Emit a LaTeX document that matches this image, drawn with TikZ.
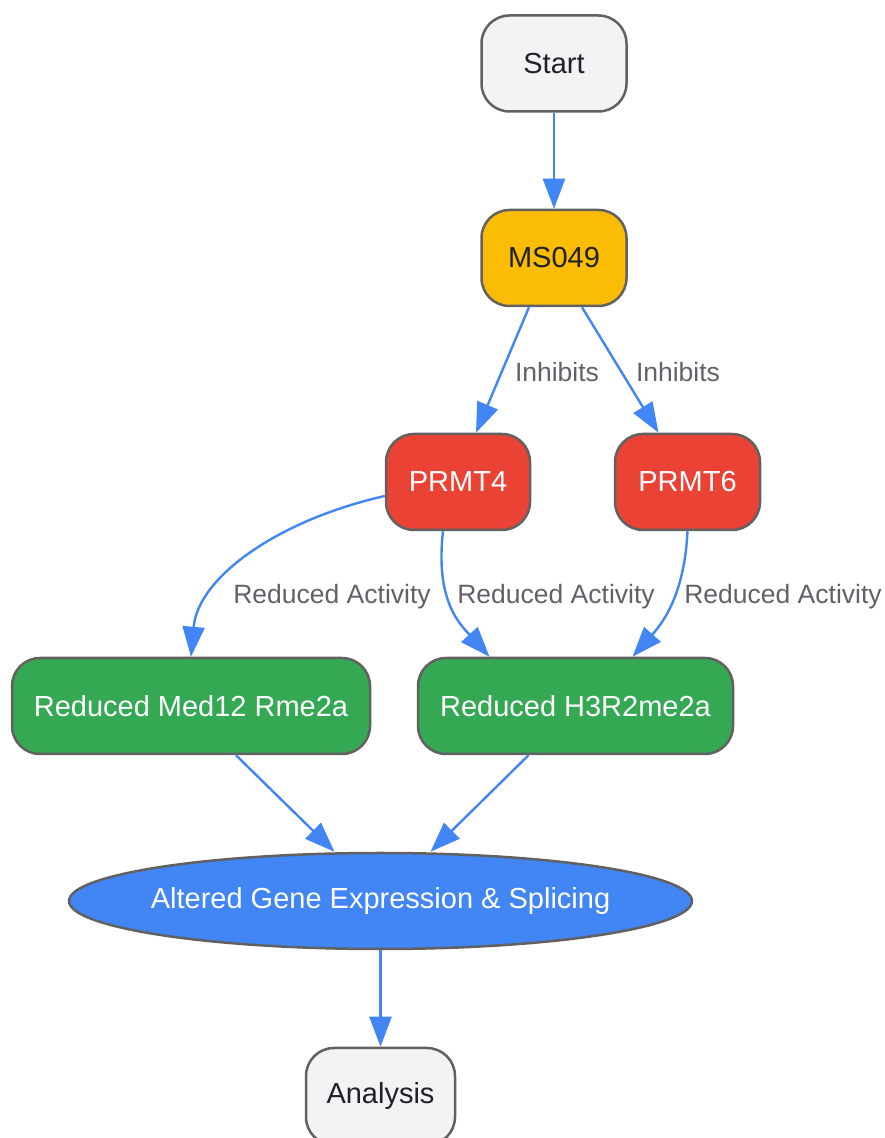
\documentclass[tikz,border=0pt]{standalone}
\usepackage{fontspec}
\setmainfont{Liberation Sans}
\usepackage{xcolor}
\usetikzlibrary{shapes.geometric}
\usetikzlibrary{arrows.meta}
\usetikzlibrary{positioning}

\definecolor{startgray}{HTML}{F1F3F4}
\definecolor{bordergray}{HTML}{616161}
\definecolor{drugyellow}{HTML}{FBBC04}
\definecolor{enzred}{HTML}{EA4335}
\definecolor{effgreen}{HTML}{34A853}
\definecolor{flowblue}{HTML}{4285F4}
\definecolor{textdark}{HTML}{202124}
\definecolor{lblgray}{HTML}{5F6368}

\tikzset{
  box/.style={draw=bordergray, line width=2.5pt, shape=rectangle, rounded corners=28pt,
    minimum height=96pt, inner sep=0pt, font=\fontsize{29}{35}\selectfont},
  greybox/.style={box, fill=startgray, text=textdark},
  drugbox/.style={box, fill=drugyellow, text=textdark},
  enzbox/.style={box, fill=enzred, text=white},
  effbox/.style={box, fill=effgreen, text=white},
  outcome/.style={draw=bordergray, line width=2.5pt, shape=ellipse, fill=flowblue, text=white,
    minimum width=623pt, minimum height=96pt, inner xsep=-12pt, inner ysep=0pt, font=\fontsize{29}{35}\selectfont},
  flow/.style={-{Triangle[length=30pt,width=22pt]}, draw=flowblue, line width=2.4pt},
  lbl/.style={text=lblgray, inner sep=0pt, font=\fontsize{26.5}{32}\selectfont},
}

\begin{document}
\begin{tikzpicture}[x=1pt, y=1pt]
\useasboundingbox (0,0) rectangle (884,1138);
\node[greybox, minimum width=145pt] (start) at (554,1074.5) {Start};
\node[drugbox, minimum width=145pt, below of=start, node distance=194.5pt] (ms) {MS049};
\node[enzbox, minimum width=144pt, below of=ms, node distance=224pt, xshift=-96pt] (p4) {PRMT4};
\node[enzbox, minimum width=145pt, below of=ms, node distance=224pt, xshift=133.5pt] (p6) {PRMT6};
\node[effbox, minimum width=358pt, below of=p4, node distance=224pt, xshift=-267pt] (med) {Reduced Med12 Rme2a};
\node[effbox, minimum width=315pt, below of=p4, node distance=224pt, xshift=117.5pt] (h3) {Reduced H3R2me2a};
\node[outcome, below of=med, node distance=195pt, xshift=189.5pt] (alt) {Altered Gene Expression \& Splicing};
\node[greybox, minimum width=149pt, minimum height=97pt, below of=alt, node distance=195.5pt] (ana) {Analysis};
% edge labels
\node[lbl] (inh4) at ([xshift=3pt, yshift=-65pt] ms.south) {Inhibits};
\node[lbl] (inh6) at ([xshift=124pt, yshift=-65pt] ms.south) {Inhibits};
\node[lbl] (ra1) at ([xshift=-126pt, yshift=-65pt] p4.south) {Reduced Activity};
\node[lbl] (ra2) at ([xshift=98pt, yshift=-65pt] p4.south) {Reduced Activity};
\node[lbl] (ra3) at ([xshift=95.5pt, yshift=-65pt] p6.south) {Reduced Activity};
% connectors
\draw[flow] (start.south) -- (ms.north);
\draw[flow] ([xshift=-25pt] ms.south) -- ([xshift=18pt] p4.north);
\draw[flow] ([xshift=28pt] ms.south) -- ([xshift=-29pt] p6.north);
\draw[flow] ([yshift=-14pt] p4.west) .. controls +(-106,-24) and +(7,80) .. (med.north);
\draw[flow] ([xshift=-15pt] p4.south) .. controls +(-8,-70) and +(-29,32) .. ([xshift=-86pt] h3.north);
\draw[flow] (p6.south) .. controls +(-3,-60) and +(33,37) .. ([xshift=57pt] h3.north);
\draw[flow] ([xshift=45pt] med.south) -- ([xshift=-46pt] alt.north);
\draw[flow] ([xshift=-47pt] h3.south) -- ([xshift=50pt] alt.north);
\draw[flow] (alt.south) -- (ana.north);
\end{tikzpicture}
\end{document}
